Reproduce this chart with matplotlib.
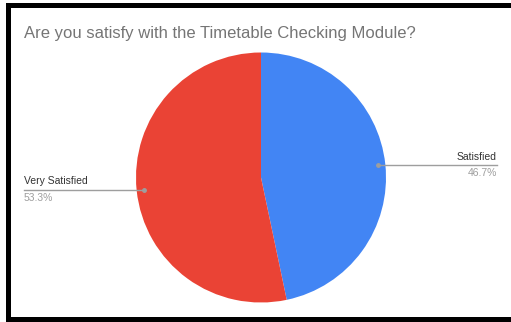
import matplotlib
matplotlib.use("Agg")
import matplotlib.pyplot as plt
import numpy as np
from matplotlib.patches import Rectangle

plt.rcParams["font.family"] = ["Liberation Sans", "DejaVu Sans"]

labels = ["Satisfied", "Very Satisfied"]
shares = [46.7, 53.3]
colors = ["#4285F4", "#EA4335"]
title = "Are you satisfy with the Timetable Checking Module?"

W, H = 511, 322
fig = plt.figure(figsize=(W / 100, H / 100), dpi=100)
ax = fig.add_axes([0, 0, 1, 1])

cx, cy, r = 261, H - 177.5, 125
wedges, _ = ax.pie(shares, colors=colors, startangle=90, counterclock=False,
                   center=(cx, cy), radius=r, frame=True,
                   wedgeprops=dict(linewidth=0))

ax.set_xlim(0, W)
ax.set_ylim(0, H)
ax.set_aspect("auto")
ax.axis("off")

# leader lines with name above and percentage below
for w, name, val in zip(wedges, labels, shares):
    mid = np.deg2rad((w.theta1 + w.theta2) / 2)
    px, py = cx + 0.94 * r * np.cos(mid), cy + 0.94 * r * np.sin(mid)
    right = np.cos(mid) > 0
    ex = 497 if right else 24
    ax.plot([px, ex], [py, py], color="#9e9e9e", lw=1, zorder=3)
    ax.plot(px, py, "o", ms=2.5, color="#9e9e9e", zorder=4)
    ha = "right" if right else "left"
    ax.text(ex, py + 3.5, name, ha=ha, va="bottom", fontsize=7.5, color="#333333")
    ax.text(ex, py - 3, f"{val}%", ha=ha, va="top", fontsize=7.5, color="#9e9e9e")

ax.text(24, H - 37.5, title, ha="left", va="baseline", fontsize=12, color="#757575")

# black frame on left, top and bottom
for x, y, w, h in [(6, 0, 4.5, H - 3), (6, H - 8, W - 6, 5), (6, 0, W - 6, 5)]:
    ax.add_patch(Rectangle((x, y), w, h, color="black", lw=0, zorder=5))

fig.savefig("out.png", dpi=100)
